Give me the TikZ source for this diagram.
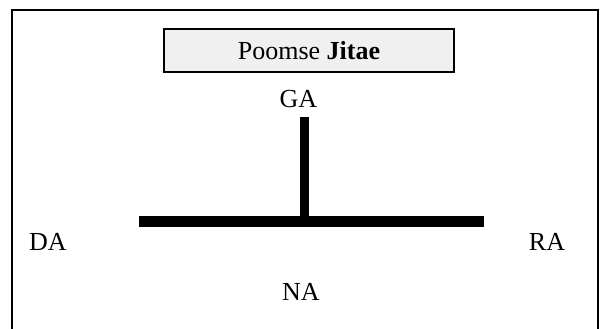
\documentclass[tikz,border=0pt]{standalone}
\usepackage{fontspec}
\setmainfont{Liberation Serif}
\definecolor{boxfill}{HTML}{F0F0F0}
\begin{document}
\begin{tikzpicture}[x=1pt,y=-1pt,
  lbl/.style={inner sep=0pt,anchor=base,font=\fontsize{26}{30}\selectfont},
  titlebox/.style={draw=black,line width=2.2pt,fill=boxfill,minimum width=290pt,minimum height=43pt,inner sep=0pt,font=\fontsize{26}{30}\selectfont},
  bar/.style={line width=9pt,line cap=butt}]
\useasboundingbox (0,0) rectangle (605,329);
% outer frame (open at the bottom)
\draw[line width=2pt] (12,330) -- (12,10) -- (598,10) -- (598,330);
% title
\node[titlebox] (title) at (309,50.5) {Poomse \textbf{Jitae}};
% T shape
\coordinate (top) at (304,117);
\coordinate (mid) at (304,221.5);
\coordinate (left) at (139,221.5);
\coordinate (right) at (484,221.5);
\draw[bar] (top) -- ([yshift=-5pt]mid);
\draw[line width=11pt,line cap=butt] (left) -- (right);
% labels
\node[lbl] (ga) at (298.5,107) {GA};
\node[lbl] (da) at (48,250) {DA};
\node[lbl] (ra) at (547,250) {RA};
\node[lbl] (na) at (301,300) {NA};
\end{tikzpicture}
\end{document}
